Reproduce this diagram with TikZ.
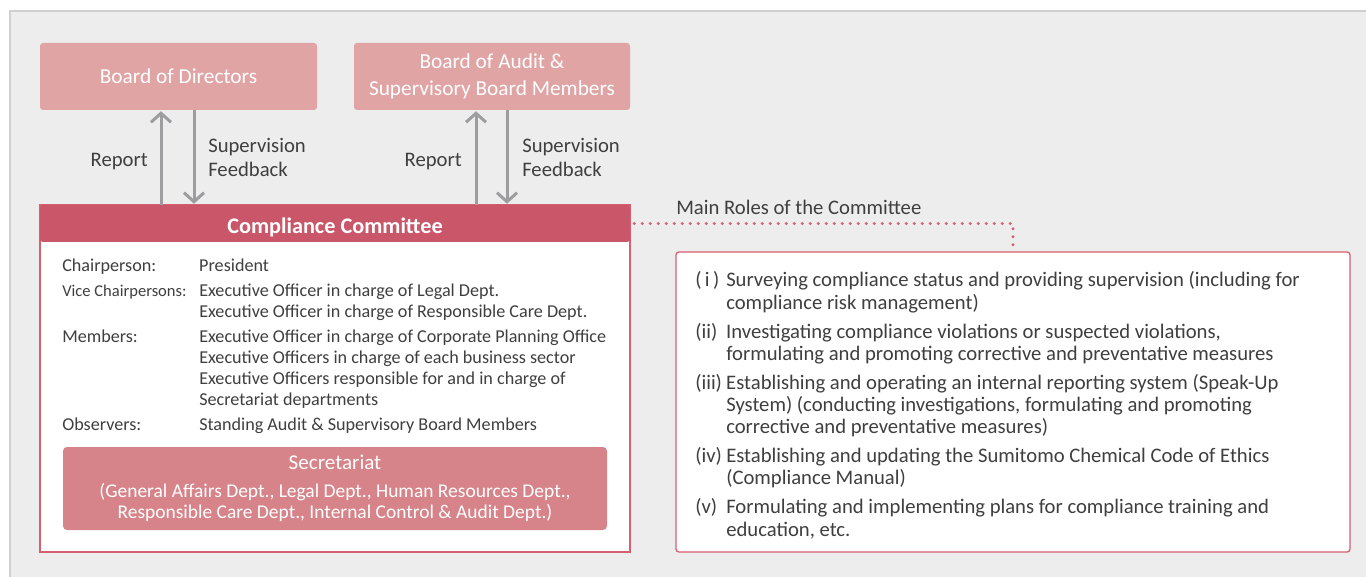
\documentclass[tikz,border=0pt]{standalone}
\usepackage{fontspec}
\setmainfont{Carlito}
\usetikzlibrary{arrows.meta}
\newlength\px
\setlength\px{0.75pt}
\definecolor{panelgray}{HTML}{EDEDED}
\definecolor{panelline}{HTML}{CFCFCF}
\definecolor{boardpink}{HTML}{E0A4A5}
\definecolor{ccred}{HTML}{C95769}
\definecolor{secpink}{HTML}{D6848A}
\definecolor{boxline}{HTML}{D65F71}
\definecolor{arrowgray}{HTML}{9D9D9F}
\definecolor{textgray}{HTML}{3F3F3F}
\tikzset{
  board/.style={fill=boardpink, rounded corners=3\px, text=white, align=center,
    minimum height=67\px, inner sep=0pt, font=\fontsize{16}{20}\selectfont},
  flow/.style={draw=arrowgray, line width=2.25pt, shorten >=0.75pt,
    -{Straight Barb[length=6.75pt,width=15pt]}},
  flowlabel/.style={text=textgray, align=left, inner sep=0pt, font=\fontsize{15.5}{18}\selectfont},
  frame/.style={draw=boxline, fill=white, line width=1pt, inner sep=0pt},
  roleslink/.style={draw=boxline, line width=2.5pt, line cap=round, dash pattern=on 0pt off 6pt}
}
\begin{document}
\begin{tikzpicture}[x=0.75pt,y=-0.75pt]
\useasboundingbox (0,0) rectangle (1366,577);
\fill[panelgray] (10,11) rectangle (1366,577);
\draw[panelline, line width=1pt] (10,577) -- (10,11) -- (1366,11);

\node[board, minimum width=277\px] (bod) at (178.5,76.5) {Board of Directors};
\node[board, minimum width=276\px] (boa) at (492,76.5) {Board of Audit \&\\Supervisory Board Members};

\node[frame, minimum width=590\px, minimum height=347\px] (ccbody) at (335,378.5) {};
\node[fill=ccred, rounded corners=3\px, minimum width=590\px, minimum height=37\px, inner sep=0pt,
  text height=15.5pt, text depth=0pt,
  text=white, font=\fontsize{16.7}{18}\selectfont\bfseries] (cc) at (335,223.5) {Compliance Committee};

\draw[flow] (cc.north -| 161,0) -- (bod.south -| 161,0);
\draw[flow] (bod.south -| 194,0) -- (cc.north -| 194,0);
\draw[flow] (cc.north -| 476,0) -- (boa.south -| 476,0);
\draw[flow] (boa.south -| 507,0) -- (cc.north -| 507,0);
\node[flowlabel, anchor=east] (rep1) at (148,161.5) {Report};
\node[flowlabel, anchor=west] (sup1) at (208,157.5) {Supervision\\Feedback};
\node[flowlabel, anchor=east] (rep2) at (462,161.5) {Report};
\node[flowlabel, anchor=west] (sup2) at (522,157.5) {Supervision\\Feedback};

\node[anchor=north west, inner sep=0pt, text=textgray, font=\fontsize{13.6}{15.75}\selectfont] (members) at (62,257) {%
  \begin{tabular}{@{}p{137\px}@{}l@{}}
  Chairperson: & President\\[3pt]
  {\fontsize{12.4}{15.75}\selectfont Vice Chairpersons:} & Executive Officer in charge of Legal Dept.\\
   & Executive Officer in charge of Responsible Care Dept.\\[3pt]
  Members: & Executive Officer in charge of Corporate Planning Office\\
   & Executive Officers in charge of each business sector\\
   & Executive Officers responsible for and in charge of\\
   & Secretariat departments\\[3pt]
  Observers: & Standing Audit \& Supervisory Board Members
  \end{tabular}};

\node[fill=secpink, rounded corners=4\px, minimum width=544\px, minimum height=83\px, inner sep=0pt,
  text=white, align=center, font=\fontsize{14.6}{15.75}\selectfont] (sec) at (335,488.5)
  {{\fontsize{15.8}{18}\selectfont Secretariat}\\[5pt]
   (General Affairs Dept., Legal Dept., Human Resources Dept.,\\
   Responsible Care Dept., Internal Control \& Audit Dept.)};

\node[frame, rounded corners=3\px, minimum width=674\px, minimum height=300\px] (roles) at (1013,402) {};
\node[anchor=west, inner sep=0pt, text=textgray, font=\fontsize{15.5}{16}\selectfont] (rolestitle) at (676,207) {Main Roles of the Committee};
\draw[roleslink] ([xshift=3pt]cc.east) -| ([yshift=3pt]roles.north);

\node[anchor=north west, inner sep=0pt, text=textgray, font=\fontsize{15.5}{16.7}\selectfont] (rolelist) at (695,271) {%
  \begin{tabular}{@{}p{31\px}@{}l@{}}
  (\,i\,) & Surveying compliance status and providing supervision (including for\\
   & compliance risk management)\\[5pt]
  (ii) & Investigating compliance violations or suspected violations,\\
   & formulating and promoting corrective and preventative measures\\[5pt]
  (iii) & Establishing and operating an internal reporting system (Speak-Up\\
   & System) (conducting investigations, formulating and promoting\\
   & corrective and preventative measures)\\[5pt]
  (iv) & Establishing and updating the Sumitomo Chemical Code of Ethics\\
   & (Compliance Manual)\\[5pt]
  (v) & Formulating and implementing plans for compliance training and\\
   & education, etc.
  \end{tabular}};
\end{tikzpicture}
\end{document}
